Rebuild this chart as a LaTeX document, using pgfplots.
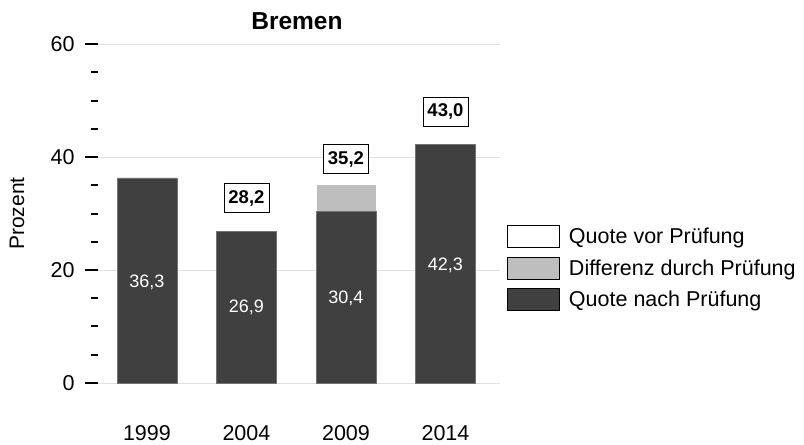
\documentclass[border=0pt]{standalone}
\usepackage{fontspec}
\setmainfont{Liberation Sans}
\usepackage{pgfplots}
\pgfplotsset{compat=1.18}

\definecolor{dunkel}{HTML}{404040}
\definecolor{hell}{HTML}{BEBEBE}
\definecolor{gitter}{HTML}{E0E0E0}

\pgfplotsset{
  boxleg/.style={legend image code/.code={\draw[##1] (0pt,-11pt) rectangle (52pt,11pt);}},
}

\begin{document}
\begin{tikzpicture}
\begin{axis}[
  scale only axis,
  width=402pt, height=339pt,
  xmin=-0.492, xmax=3.548,
  ymin=0, ymax=60,
  axis x line*=bottom, axis y line*=left,
  x axis line style={draw=none},
  y axis line style={draw=none},
  xtick={0,1,2,3},
  xticklabels={1999,2004,2009,2014},
  xtick style={draw=none},
  ytick={0,20,40,60},
  minor ytick={5,10,15,25,30,35,45,50,55},
  tick align=outside,
  major tick length=13pt,
  minor tick length=7pt,
  ytick style={draw=black, line width=2pt},
  minor tick style={draw=black, line width=2pt},
  ymajorgrids=true,
  grid style={draw=gitter, line width=0.8pt},
  /pgf/number format/assume math mode=true,
  tick label style={font=\fontsize{21.5}{25}\selectfont},
  yticklabel style={xshift=-7pt},
  xticklabel style={yshift=-26pt},
  ylabel={Prozent},
  ylabel style={at={(axis description cs:-0.2015,0.5)}, anchor=center, font=\fontsize{21}{25}\selectfont},
  title={\textbf{Bremen}},
  title style={at={(axis description cs:0.495,1.05)}, anchor=center, font=\fontsize{24.5}{28}\selectfont},
  legend style={draw=none, fill=none, at={(axis description cs:1.0174,0.339)}, anchor=west,
    inner sep=0pt, row sep=9pt, font=\fontsize{21.5}{25}\selectfont,
    nodes={inner sep=2pt},
    /tikz/every odd column/.append style={column sep=7pt}},
  legend cell align=left,
  clip=false,
]

% Differenz durch Pruefung (grey, behind the dark part)
\addplot[ybar, bar width=0.6, bar shift=0pt, fill=hell, draw=white, line width=0.6pt, forget plot]
  coordinates {(2,35.2)};
% Quote nach Pruefung
\addplot[ybar, bar width=0.6, bar shift=0pt, fill=dunkel, draw=black!55, line width=0.6pt, forget plot]
  coordinates {(0,36.3)(1,26.9)(2,30.4)(3,42.3)};

% values inside the bars
\addplot[draw=none, mark=none, forget plot, nodes near coords, point meta=explicit symbolic,
  every node near coord/.style={anchor=center, text=white, font=\fontsize{18}{20}\selectfont}]
  coordinates {(0,17.8)[36,3] (1,13.3)[26,9] (2,14.9)[30,4] (3,20.8)[42,3]};

% Quote vor Pruefung in boxes
\addplot[draw=none, mark=none, forget plot, nodes near coords, point meta=explicit symbolic,
  every node near coord/.style={anchor=center, draw=black, line width=0.9pt, fill=white,
    inner xsep=4.5pt, inner ysep=6.5pt, font=\bfseries\fontsize{18.5}{20}\selectfont}]
  coordinates {(1,32.7)[28,2] (2,39.6)[35,2] (3,48.0)[43,0]};

\addlegendimage{boxleg, fill=white, draw=black, line width=0.8pt}
\addlegendentry{Quote vor Prüfung}
\addlegendimage{boxleg, fill=hell, draw=none}
\addlegendentry{Differenz durch Prüfung}
\addlegendimage{boxleg, fill=dunkel, draw=none}
\addlegendentry{Quote nach Prüfung}

\coordinate (sw) at (rel axis cs:0,0);
\end{axis}
\path[use as bounding box] ([shift={(-98pt,-58pt)}]sw) rectangle ([shift={(706pt,383pt)}]sw);
\end{tikzpicture}
\end{document}
